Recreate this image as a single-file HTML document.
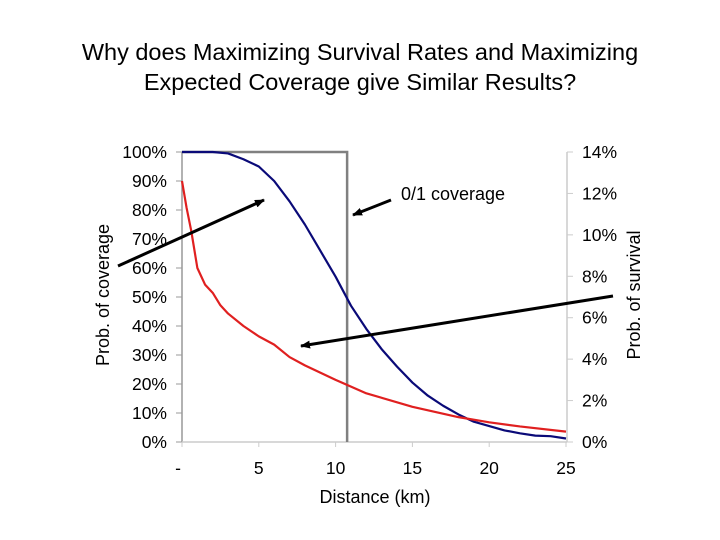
<!DOCTYPE html>
<html><head><meta charset="utf-8"><style>
body{margin:0;background:#fff}
svg{display:block;font-family:"Liberation Sans",Arial,sans-serif}
</style></head><body>
<svg id="chart" width="720" height="540" viewBox="0 0 720 540">
<defs><marker id="ah" markerWidth="10" markerHeight="8" refX="9" refY="4" orient="auto" markerUnits="userSpaceOnUse"><path d="M0,0 L10,4 L0,8 z" fill="#000"/></marker></defs>
<text x="360" y="60" font-size="23.5" text-anchor="middle">Why does Maximizing Survival Rates and Maximizing</text>
<text x="360" y="90" font-size="23.5" text-anchor="middle">Expected Coverage give Similar Results?</text>
<g id="axes"></g>
<g id="marks"></g>
<text x="375" y="503" font-size="18" text-anchor="middle">Distance (km)</text>
<text transform="translate(109,295) rotate(-90)" font-size="18" text-anchor="middle">Prob. of coverage</text>
<text transform="translate(640,295) rotate(-90)" font-size="18" text-anchor="middle">Prob. of survival</text>
<text x="401" y="200" font-size="18">0/1 coverage</text>
<line x1="118" y1="266" x2="264" y2="200" stroke="#000" stroke-width="3" marker-end="url(#ah)"/>
<line x1="391" y1="200" x2="353" y2="215" stroke="#000" stroke-width="3" marker-end="url(#ah)"/>
<line x1="613" y1="296" x2="301" y2="346" stroke="#000" stroke-width="3" marker-end="url(#ah)"/>
</svg>
<script>
const xTicks=[0,5,10,15,20,25];
const xTickLabels=["-","5","10","15","20","25"];
const leftTicks=[0,10,20,30,40,50,60,70,80,90,100];
const rightTicks=[0,2,4,6,8,10,12,14];
const threshold=10.75;
const covDist=[0,2,3,4,5,6,7,8,9,10,11,12,13,14,15,16,17,18,19,20,21,22,23,24,25];
const covVals=[100,100,99.5,97.5,95,90,83,75,66,57,47,39,32,26,20.5,16,12.5,9.5,7,5.5,4,3,2.2,2,1.2];
const survDist=[0,0.3,0.6,1,1.5,2,2.5,3,4,5,6,7,8,10,12,15,18,20,22,25];
const survVals=[12.6,11.3,10.2,8.4,7.6,7.2,6.6,6.2,5.6,5.1,4.7,4.1,3.7,3.0,2.35,1.7,1.2,0.95,0.75,0.5];
const X=d=>182+d*(566-182)/25;
const YL=v=>442-v*(442-152)/100;
const YR=v=>442-v*(442-152)/14;
const NS="http://www.w3.org/2000/svg";
function mk(p,t,a){const e=document.createElementNS(NS,t);for(const k in a)e.setAttribute(k,a[k]);p.appendChild(e);return e;}
const ax=document.getElementById('axes'),mg=document.getElementById('marks');
let e;
e=mk(ax,'line',{x1:182,y1:152,x2:182,y2:442,stroke:'#999','stroke-width':1.5});

e=mk(ax,'line',{x1:567,y1:152,x2:567,y2:442,stroke:'#ccc','stroke-width':1.5});

e=mk(ax,'line',{x1:182,y1:442,x2:567,y2:442,stroke:'#ccc','stroke-width':1.5});

leftTicks.forEach(v=>{mk(ax,'line',{x1:176,x2:182,y1:YL(v),y2:YL(v),stroke:'#999'});
 e=mk(ax,'text',{x:167,y:YL(v)+6,'font-size':17.5,'text-anchor':'end'});e.textContent=v+'%';
 });
rightTicks.forEach(v=>{mk(ax,'line',{x1:567,x2:573,y1:YR(v),y2:YR(v),stroke:'#ccc'});
 e=mk(ax,'text',{x:582,y:YR(v)+6,'font-size':17.5});e.textContent=v+'%';
 });
xTicks.forEach((v,i)=>{mk(ax,'line',{x1:X(v),x2:X(v),y1:442,y2:447,stroke:'#ccc'});
 e=mk(ax,'text',{x:X(v)-(i==0?4:0),y:474,'font-size':17.5,'text-anchor':'middle'});e.textContent=xTickLabels[i];
 });
e=mk(mg,'path',{d:`M182,${YL(100)} L${X(threshold)},${YL(100)} L${X(threshold)},${YL(0)}`,fill:'none',stroke:'#808080','stroke-width':2.5});

e=mk(mg,'polyline',{points:covDist.map((d,i)=>X(d)+','+YL(covVals[i])).join(' '),fill:'none',stroke:'#0a0a78','stroke-width':2.2,'stroke-linejoin':'round'});

e=mk(mg,'polyline',{points:survDist.map((d,i)=>X(d)+','+YR(survVals[i])).join(' '),fill:'none',stroke:'#e02020','stroke-width':2.2,'stroke-linejoin':'round'});

</script>
</body></html>
